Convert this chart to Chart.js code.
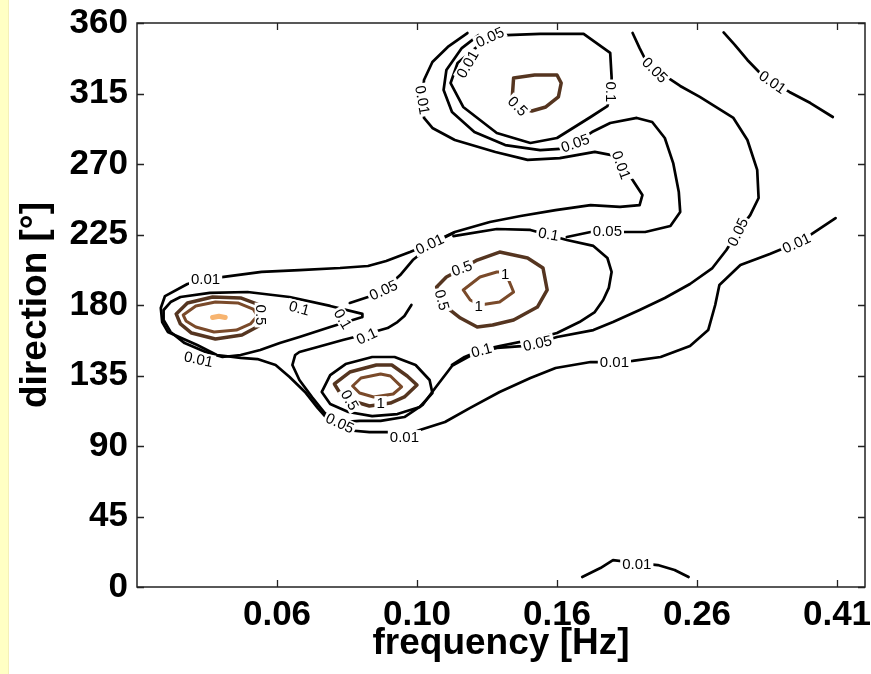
<!DOCTYPE html>
<html><head><meta charset="utf-8">
<script src="https://cdn.jsdelivr.net/npm/chart.js@4.4.1/dist/chart.umd.min.js"></script>
<style>
html,body{margin:0;padding:0;background:#fff;}
#wrap{position:relative;width:871px;height:674px;overflow:hidden;background:#fff;}
#strip{position:absolute;left:0;top:0;width:8px;height:674px;background:#ffffc4;border-right:1px solid #f4f0b8;}
canvas{position:absolute;left:0;top:0;}
</style></head><body>
<div id="wrap"><div id="strip"></div><canvas id="c" width="871" height="674"></canvas></div>
<script>
// ---- axes ----
const freqTickPos = [1, 2, 3, 4, 5];
const freqTickLabels = ['0.06', '0.10', '0.16', '0.26', '0.41'];
const dirTicks = [0, 45, 90, 135, 180, 225, 270, 315, 360];

// ---- contour lines: [frequency band position, direction deg] ----
// level 0.01
const c001_topRight = [[4.19,354],[4.27,346],[4.36,336.4],[4.45,328.1],[4.56,321.1],[4.66,316],[4.81,308.9],[4.97,300]];
const c001_main = [[2.36,353.6],[2.22,344.7],[2.11,335.1],[2.05,323.6],[2.04,310.9],[2.05,299.4],[2.11,293],[2.27,285.3],[2.56,277.7],[2.79,272.6],[3.02,273.8],[3.27,277.7],[3.39,275.7],[3.46,269.4],[3.54,259.8],[3.61,250.2],[3.59,243.8],[3.45,242.6],[3.24,243.8],[2.99,240.6],[2.74,236.8],[2.52,233],[2.27,226.6],[2.09,218.9],[1.95,213.8],[1.78,208.1],[1.65,204.9],[1.45,203.6],[1.16,202.3],[0.89,201.1],[0.62,197.9],[0.49,196.6],[0.36,193.4],[0.2,185.7],[0.17,178.1],[0.18,169.1],[0.22,162.8],[0.43,154.5],[0.57,148.1],[0.74,146.2],[0.86,145.5],[0.99,141.7],[1.09,134],[1.2,124.5],[1.29,114.3],[1.38,105.3],[1.49,100.2],[1.66,98.9],[1.81,98.9],[1.91,96.4],[2.02,100.2],[2.2,105.3],[2.38,114.3],[2.59,124.5],[2.81,133.4],[2.99,139.8],[3.24,143.6],[3.41,143.6],[3.54,144.3],[3.74,146.8],[3.95,153.8],[4.08,164],[4.13,180],[4.16,192.8],[4.31,205.5],[4.52,212.6],[4.71,219.6],[4.81,224.7],[4.99,235.5]];
const c001_bottom = [[3.18,6.4],[3.31,12.1],[3.4,17.2],[3.57,15.3],[3.72,14],[3.84,10.9],[3.94,6.4]];
// level 0.05
const c005_right = [[3.54,353.6],[3.59,344],[3.64,335.1],[3.74,328.1],[3.88,319.8],[4.02,312.8],[4.26,299.4],[4.36,285.3],[4.43,266.2],[4.44,248.3],[4.38,237.4],[4.29,226.6],[4.21,215.1],[4.11,203.6],[3.95,193.4],[3.77,184.5],[3.59,176.8],[3.4,169.1],[3.26,164],[3.0,159.6],[2.86,155.7],[2.75,153.8],[2.57,152.6],[2.39,148.1],[2.25,141.1],[2.13,127],[2.04,116.2],[1.91,108.5],[1.74,106],[1.59,106],[1.46,105.3],[1.34,111.1],[1.25,121.3],[1.16,132.1],[1.11,141.7],[1.13,148.1],[1.16,150],[1.29,153.2],[1.47,157.7],[1.64,161.5],[1.79,165.3],[1.86,169.1],[1.91,173],[1.96,180]];
const c005_top = [[2.44,352.3],[2.32,344],[2.21,330],[2.19,317.2],[2.25,303.2],[2.41,290.4],[2.63,282.1],[2.88,278.9],[3.02,279.6],[3.13,283.4],[3.25,290.4],[3.38,296.2],[3.57,299.4],[3.68,296.8],[3.77,286.6],[3.83,270.6],[3.87,252.1],[3.88,239.4],[3.81,230.4],[3.63,226.6],[3.36,226.6],[3.24,226.6],[3.07,223.4]];
const c005_left = [[2.26,226],[2.16,221.5],[2.06,215.1],[1.97,208.7],[1.88,199.1],[1.77,190.2],[1.65,185.1],[1.52,181.3]];
// level 0.1
const c01_teardrop = [[0.19,176.8],[0.24,181.9],[0.31,185.1],[0.52,187.7],[0.79,188.3],[1.09,185.1],[1.38,179.4],[1.61,174.3],[1.61,172.3],[1.38,166],[1.16,159.6],[1.02,155.7],[0.88,151.3],[0.74,148.1],[0.61,146.8],[0.49,150],[0.34,155.7],[0.24,162.8],[0.19,170.4],[0.19,176.8]];
const c01_central = [[2.26,224],[2.57,228.5],[2.81,227.9],[2.94,224.7],[3.07,221.5],[3.26,217.7],[3.36,210],[3.39,201.1],[3.37,190.9],[3.33,183.2],[3.27,175.5],[3.16,169.1],[3.0,162.1],[2.81,157.7],[2.59,153.8],[2.46,151.3],[2.34,146.8],[2.25,141.7]];
const c01_top = [[2.4,342.8],[2.52,350.4],[2.64,352.3],[2.88,353],[3.19,353],[3.38,340.9],[3.39,325.5],[3.39,316],[3.36,307],[3.24,300],[3.0,286.6],[2.81,283.4],[2.57,289.8],[2.33,306.4],[2.24,321.7],[2.29,334.5],[2.4,342.8]];
const c01_lower = [[1.32,124.5],[1.38,135.3],[1.49,142.3],[1.68,146.8],[1.84,146.8],[1.99,141.7],[2.09,132.1],[2.11,123.8],[2.02,114.9],[1.86,110.4],[1.68,109.1],[1.51,111.7],[1.38,116.8],[1.32,124.5]];
// level 0.5
const c05_top = [[2.69,324.9],[2.84,326.8],[3.0,326.8],[3.03,321.7],[3.01,312.8],[2.92,306.4],[2.82,303.8],[2.74,305.7],[2.68,312.1],[2.69,324.9]];
const c05_left = [[0.28,174.3],[0.36,181.3],[0.54,185.1],[0.74,184.5],[0.86,180.6],[0.92,174.3],[0.87,166.6],[0.75,160.9],[0.56,158.3],[0.39,162.1],[0.31,167.9],[0.28,174.3]];
const c05_central = [[2.43,208.7],[2.59,213.8],[2.79,210],[2.9,203.6],[2.93,189.6],[2.86,178.7],[2.69,170.4],[2.54,167.2],[2.43,166],[2.31,171.7],[2.21,178.7],[2.16,186.4],[2.14,191.5],[2.21,197.9],[2.33,203.6],[2.43,208.7]];
const c05_lower = [[1.41,129.6],[1.52,137.2],[1.71,141.7],[1.82,141.7],[1.93,134.7],[2.0,128.9],[1.91,121.3],[1.81,117.4],[1.66,115.5],[1.54,118.7],[1.45,123.8],[1.41,129.6]];
// level 1
const c1_left = [[0.33,173.6],[0.42,179.4],[0.56,181.9],[0.72,181.3],[0.83,177.4],[0.86,173],[0.81,167.9],[0.71,164],[0.55,162.8],[0.42,166],[0.35,169.8],[0.33,173.6]];
const c1_central = [[2.33,189.6],[2.45,197.9],[2.57,201.1],[2.63,201.1],[2.69,188.3],[2.59,181.9],[2.45,180],[2.38,183.2],[2.33,189.6]];
const c1_lower = [[1.54,128.3],[1.6,133.4],[1.74,136],[1.81,134.7],[1.89,127.7],[1.83,123.2],[1.69,121.3],[1.59,123.8],[1.54,128.3]];
// peak
const cPeak_left = [[0.54,172],[0.585,172.8],[0.63,172]];

// contour labels: [text, position, direction, angle]
const contourLabels = [
 ['0.01',4.54,322.3,35],['0.01',2.04,310.9,80],['0.01',3.46,269.4,70],['0.01',2.09,218.9,-25],
 ['0.01',0.49,196.6,0],['0.01',0.44,145.5,12],['0.01',1.91,95.7,0],['0.01',3.41,143.6,0],
 ['0.01',4.71,219.6,-25],['0.01',3.57,14.7,0],['0.01',2.36,333.8,-60],
 ['0.05',3.70,330.0,45],['0.05',4.29,226.6,-65],['0.05',2.86,155.7,-12],['0.05',1.45,104.7,25],
 ['0.05',3.13,283.4,-20],['0.05',3.36,227.2,0],['0.05',1.76,189.6,-25],['0.05',2.52,351.1,-25],
 ['0.1',3.39,316.0,90],['0.1',2.94,225.3,10],['0.1',2.46,151.3,-15],['0.1',1.64,160.2,-25],
 ['0.1',1.16,178.1,15],['0.1',1.47,171.1,60],
 ['0.5',2.72,307.0,45],['0.5',0.89,173.6,90],['0.5',2.32,203.6,-20],['0.5',2.18,183.2,75],['0.5',1.52,119.4,60],
 ['1',2.63,199.8,0],['1',2.44,179.4,0],['1',1.74,117.4,0]
];

// ---- styling ----
const FONT = '"Liberation Sans", Arial, Helvetica, sans-serif';
const levelStyle = {
  '0.01': {color:'#000000', width:2.7},
  '0.05': {color:'#000000', width:2.7},
  '0.1':  {color:'#000000', width:2.7},
  '0.5':  {color:'#553520', width:3.5},
  '1':    {color:'#7a4a2a', width:3},
  'peak': {color:'#f7b470', width:5}
};
const contours = [
  ['0.01', c001_topRight], ['0.01', c001_main], ['0.01', c001_bottom],
  ['0.05', c005_right], ['0.05', c005_top], ['0.05', c005_left],
  ['0.1', c01_teardrop], ['0.1', c01_central], ['0.1', c01_top], ['0.1', c01_lower],
  ['0.5', c05_top], ['0.5', c05_left], ['0.5', c05_central], ['0.5', c05_lower],
  ['1', c1_left], ['1', c1_central], ['1', c1_lower],
  ['peak', cPeak_left]
];

const datasets = contours.map(([lvl, pts]) => ({
  label: lvl,
  data: pts.map(([u, d]) => ({x: u, y: d})),
  showLine: true, fill: false, tension: 0,
  borderColor: levelStyle[lvl].color, borderWidth: levelStyle[lvl].width,
  pointRadius: 0, pointHoverRadius: 0,
  borderJoinStyle: 'round', borderCapStyle: 'round'
}));

const labelPlugin = {
  id: 'clabels',
  afterDatasetsDraw(chart) {
    const {ctx, scales: {x, y}} = chart;
    ctx.save();
    ctx.font = '15px ' + FONT;
    ctx.textAlign = 'center';
    ctx.textBaseline = 'middle';
    for (const [t, u, d, a] of contourLabels) {
      const px = x.getPixelForValue(u), py = y.getPixelForValue(d);
      ctx.save();
      ctx.translate(px, py);
      ctx.rotate(a * Math.PI / 180);
      const w = ctx.measureText(t).width;
      ctx.fillStyle = '#fff';
      ctx.fillRect(-w / 2 - 2, -7, w + 4, 14);
      ctx.fillStyle = '#000';
      ctx.fillText(t, 0, 1);
      ctx.restore();
    }
    ctx.restore();
  }
};

const framePlugin = {
  id: 'frame',
  afterDraw(chart) {
    const {ctx, chartArea: a, scales: {x, y}} = chart;
    ctx.save();
    ctx.strokeStyle = '#222';
    ctx.lineWidth = 1.5;
    ctx.strokeRect(a.left, a.top, a.right - a.left, a.bottom - a.top);
    ctx.beginPath();
    ctx.lineWidth = 1.3;
    for (const v of freqTickPos) {
      const px = Math.round(x.getPixelForValue(v)) + 0.5;
      ctx.moveTo(px, a.bottom); ctx.lineTo(px, a.bottom - 7);
      ctx.moveTo(px, a.top); ctx.lineTo(px, a.top + 7);
    }
    for (const v of dirTicks) {
      const py = Math.round(y.getPixelForValue(v)) + 0.5;
      ctx.moveTo(a.left, py); ctx.lineTo(a.left + 7, py);
      ctx.moveTo(a.right, py); ctx.lineTo(a.right - 7, py);
    }
    ctx.stroke();
    ctx.restore();
  }
};

function zeroPad(s) { s.paddingLeft = 0; s.paddingRight = 0; s.paddingTop = 0; s.paddingBottom = 0; }

Chart.defaults.font.family = FONT;
new Chart(document.getElementById('c'), {
  type: 'scatter',
  data: {datasets},
  options: {
    responsive: false, animation: false,
    layout: {padding: {left: 0, right: 6, top: 23, bottom: 0}},
    plugins: {legend: {display: false}, tooltip: {enabled: false}},
    scales: {
      x: {
        type: 'linear', min: 0, max: 5.2,
        afterBuildTicks: s => { s.ticks = freqTickPos.map(v => ({value: v})); },
        afterFit: s => { s.height = 87; zeroPad(s); },
        ticks: {
          callback: v => freqTickLabels[freqTickPos.indexOf(v)],
          font: {size: 35, weight: 'bold'}, color: '#000', padding: 7,
          maxRotation: 0, autoSkip: false
        },
        grid: {display: false, drawTicks: false},
        border: {display: false},
        title: {display: true, text: 'frequency [Hz]', color: '#000',
                font: {size: 37, weight: 'bold'}, padding: {top: 0, bottom: 8}}
      },
      y: {
        type: 'linear', min: 0, max: 360,
        afterBuildTicks: s => { s.ticks = dirTicks.map(v => ({value: v})); },
        afterFit: s => { s.width = 137; zeroPad(s); },
        ticks: {font: {size: 35, weight: 'bold'}, color: '#000', padding: 9, autoSkip: false},
        grid: {display: false, drawTicks: false},
        border: {display: false},
        title: {display: true, text: 'direction [°]', color: '#000',
                font: {size: 37, weight: 'bold'}, padding: {top: 14, bottom: 0}}
      }
    }
  },
  plugins: [labelPlugin, framePlugin]
});
</script>
</body></html>
